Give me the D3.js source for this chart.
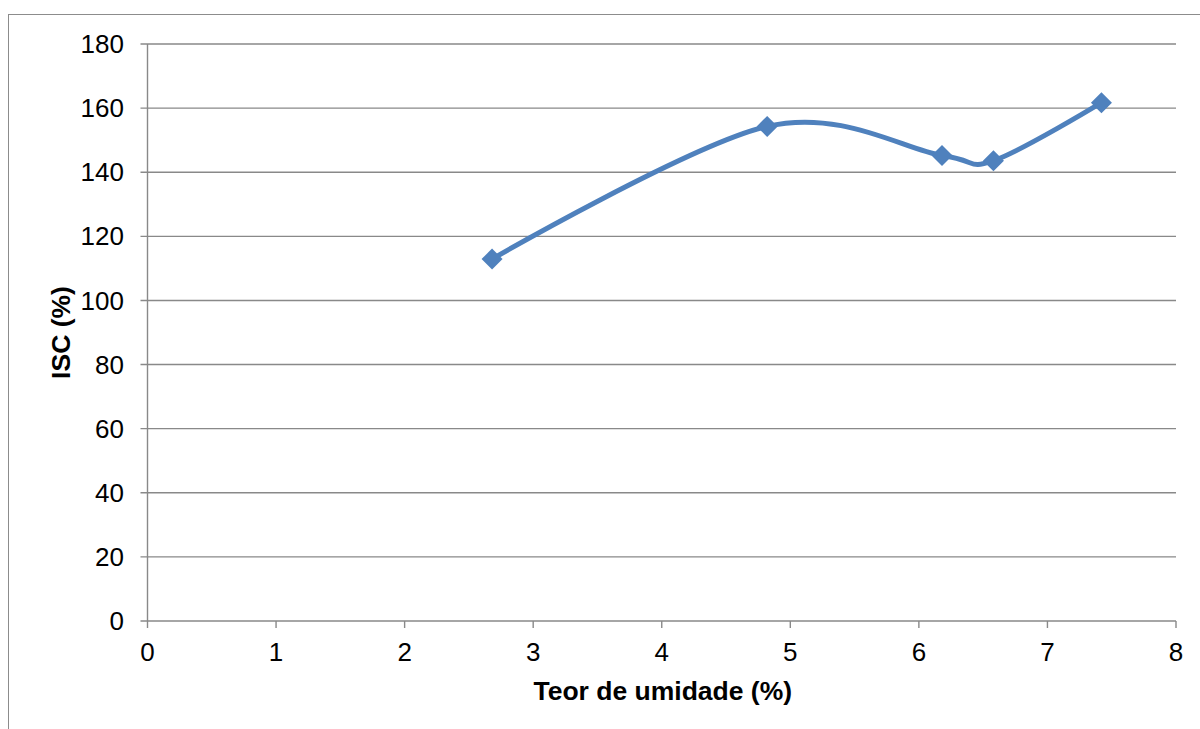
<!DOCTYPE html>
<html><head><meta charset="utf-8">
<script src="https://cdn.jsdelivr.net/npm/d3@7/dist/d3.min.js"></script>
<style>body{margin:0;background:#fff;} svg{display:block;font-family:"Liberation Sans",Arial,sans-serif;}</style>
</head><body>
<svg id="c" width="1200" height="729"></svg>
<script>
const xValues = [2.68, 4.82, 6.18, 6.58, 7.42];
const yValues = [112.9, 154.3, 145.2, 143.6, 161.7];
const xTicks = [0,1,2,3,4,5,6,7,8];
const yTicks = [0,20,40,60,80,100,120,140,160,180];
const xTitle = "Teor de umidade (%)";
const yTitle = "ISC (%)";

const svg = d3.select("#c");
const m = {left:147.5, right:1176, top:44, bottom:621};
const x = d3.scaleLinear().domain([0,8]).range([m.left, m.right]);
const y = d3.scaleLinear().domain([0,180]).range([m.bottom, m.top]);
const grid = "#898989";

svg.append("rect").attr("x",8.5).attr("y",14.5).attr("width",1200).attr("height",730)
  .attr("fill","none").attr("stroke","#8c8c8c").attr("stroke-width",1);

svg.append("g").selectAll("line").data(yTicks).join("line")
  .attr("x1",m.left-7).attr("x2",m.right).attr("y1",d=>y(d)).attr("y2",d=>y(d))
  .attr("stroke",grid).attr("stroke-width",1.4);
svg.append("line").attr("x1",m.left).attr("x2",m.left).attr("y1",m.top).attr("y2",m.bottom)
  .attr("stroke",grid).attr("stroke-width",1.4);
svg.append("g").selectAll("line").data(xTicks).join("line")
  .attr("x1",d=>x(d)).attr("x2",d=>x(d)).attr("y1",m.bottom).attr("y2",m.bottom+7)
  .attr("stroke",grid).attr("stroke-width",1.4);

svg.append("g").selectAll("text").data(yTicks).join("text")
  .attr("x",124).attr("y",d=>y(d)).attr("dy","0.35em").attr("text-anchor","end")
  .attr("font-size",26).attr("fill","#000").text(d=>d);
svg.append("g").selectAll("text").data(xTicks).join("text")
  .attr("x",d=>x(d)).attr("y",652).attr("dy","0.35em").attr("text-anchor","middle")
  .attr("font-size",26).attr("fill","#000").text(d=>d);

svg.append("text").attr("x",(m.left+m.right)/2 + 1).attr("y",691).attr("dy","0.35em")
  .attr("text-anchor","middle").attr("font-size",26.5).attr("font-weight","bold").text(xTitle);
svg.append("text").attr("transform",`translate(61,${(m.top+m.bottom)/2}) rotate(-90)`).attr("dy","0.35em")
  .attr("text-anchor","middle").attr("font-size",26.5).attr("font-weight","bold").text(yTitle);

const pts = xValues.map((v,i)=>[v,yValues[i]]);
const line = d3.line().x(d=>x(d[0])).y(d=>y(d[1])).curve(d3.curveCardinal.tension(0));
svg.append("path").datum(pts).attr("d",line).attr("fill","none")
  .attr("stroke","#4F81BD").attr("stroke-width",5).attr("stroke-linejoin","round");
svg.append("g").selectAll("path").data(pts).join("path")
  .attr("transform",d=>`translate(${x(d[0])},${y(d[1])})`)
  .attr("d","M0,-10.5L10.5,0L0,10.5L-10.5,0Z").attr("fill","#4F81BD");
</script>
</body></html>
